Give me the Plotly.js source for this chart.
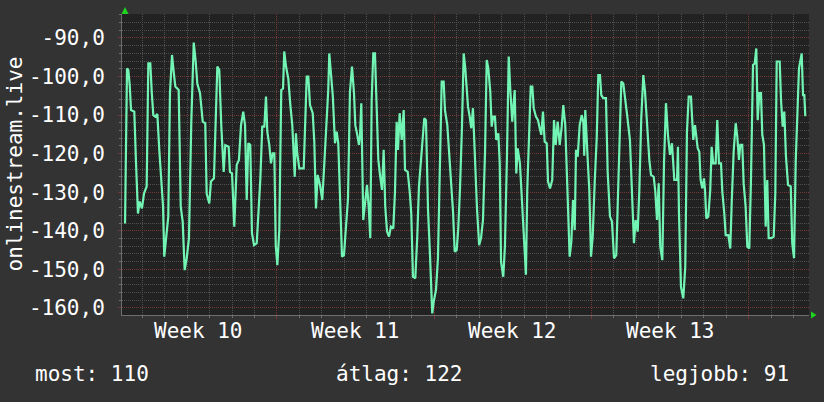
<!DOCTYPE html>
<html><head><meta charset="utf-8">
<script src="https://cdn.plot.ly/plotly-3.0.1.min.js"></script>
<style>html,body{margin:0;padding:0;background:#333333;} #chart{width:824px;height:402px;}</style>
</head><body><div id="chart"></div>
<script>
// time in hours since start of Week 10
const hours = [
5.7,6.4,7.8,9.2,10.7,12.1,15.6,17.4,19.5,21.4,
23.8,26.0,28.8,30.6,32.7,34.2,35.9,38.0,40.2,42.3,
44.4,46.3,47.6,49.5,51.9,53.7,55.9,57.3,59.4,63.0,
65.2,67.3,69.4,71.6,74.0,76.5,79.1,81.2,82.9,85.8,
88.7,91.4,92.9,95.7,97.5,100.7,102.6,104.3,106.4,108.5,
111.1,112.8,116.4,117.8,120.0,122.4,125.0,127.4,
129.6,132.0,133.9,135.7,137.4,139.5,141.3,143.5,146.4,148.1,
150.2,152.3,154.5,156.3,157.7,159.8,161.6,163.4,165.2,166.7,
168.4,170.5,172.6,174.5,175.8,177.7,180.1,182.3,184.4,187.0,
188.3,189.7,191.9,196.6,198.0,199.8,201.5,203.3,206.2,207.9,
209.7,211.5,214.0,216.4,218.6,221.1,222.8,223.9,225.7,227.6,
230.0,231.8,233.5,235.7,237.5,239.6,241.8,243.9,246.0,248.2,
250.3,251.7,253.8,255.6,256.7,258.1,260.2,262.1,264.2,266.0,
267.7,269.2,270.9,272.7,274.6,276.3,278.1,280.2,282.0,283.7,
285.6,287.7,289.8,292.3,294.1,295.9,297.3,299.1,301.3,303.4,
304.8,307.7,309.8,311.5,313.3,315.8,317.9,319.7,321.6,323.7,
325.4,327.2,329.4,331.5,332.9,333.9,335.4,337.9,340.0,342.2,
344.0,346.1,347.5,350.0,352.1,354.3,356.1,357.9,360.0,361.7,
363.5,365.7,367.5,369.2,
372.1,373.9,375.6,377.4,379.6,381.7,384.0,386.0,388.1,390.3,
392.1,393.8,395.9,397.4,399.1,400.9,402.3,404.5,406.0,407.4,
409.8,411.6,413.7,415.6,417.3,419.4,422.0,423.7,425.2,427.6,
429.8,431.9,434.0,435.4,437.3,439.1,440.8,442.3,444.7,446.9,
448.7,450.4,452.2,454.0,456.2,457.6,459.7,462.1,464.0,465.8,
467.9,470.1,472.2,473.9,476.0,477.9,479.7,480.7,482.5,484.3,
486.1,487.5,489.3,491.4,493.6,495.3,
496.3,497.4,500.0,501.7,503.5,505.3,507.5,509.6,511.3,513.1,
514.5,516.6,519.5,521.3,523.8,525.9,528.1,530.5,532.3,534.2,
535.9,538.0,540.1,542.3,545.1,547.0,549.4,551.2,553.4,555.1,
557.2,559.4,561.2,563.6,565.8,567.6,570.5,572.2,574.0,575.8,
577.5,579.7,581.5,583.6,585.7,587.9,590.0,592.5,595.4,596.4,
597.5,599.6,602.1,604.2,606.0,607.9,610.3,612.8,614.6,
617.5,619.2,620.6,622.4,624.2,625.3,626.7,628.8,630.9,632.4,
634.1,636.7,638.4,640.2,642.4,643.8,645.9,647.4,650.2,652.3,
653.8,655.9,658.1,659.8,661.6,663.0,665.1,666.6,668.7,670.5,
672.6,674.4,676.6,678.4,680.1,681.6,683.3,685.1,686.5,688.3,
690.1,691.8,693.3,696.1,698.7,700.4,701.9,705.1,706.5,708.3,
710.0,711.8,714.0,716.9,718.5,720.4,722.2,725.7,728.6,730.0,
731.4,732.4,733.5
];
const signal = [
-138.1,-119.0,-97.9,-98.3,-102.2,-108.7,-109.1,-122.1,-135.5,-132.4,
-134.2,-130.3,-128.5,-96.6,-96.6,-103.9,-110.0,-110.4,-109.7,-119.0,
-127.7,-133.7,-146.7,-142.4,-136.3,-104.3,-94.4,-97.9,-102.6,-103.5,
-133.7,-137.6,-150.2,-147.1,-141.9,-111.7,-91.2,-96.1,-101.8,-104.3,
-111.7,-112.1,-130.3,-132.9,-127.2,-126.4,-107.4,-97.4,-98.3,-112.6,
-124.7,-117.8,-118.2,-124.7,-125.1,-138.9,-122.9,-121.6,
-112.6,-109.1,-112.6,-132.0,-117.3,-117.7,-140.6,-143.7,-143.2,-136.3,
-126.8,-113.0,-113.0,-105.2,-114.3,-117.7,-122.5,-119.9,-119.9,-143.7,
-148.9,-139.8,-103.5,-103.1,-93.5,-97.4,-100.5,-107.4,-112.6,-126.0,
-114.7,-119.9,-123.8,-123.8,-112.1,-100.0,-100.0,-107.4,-109.5,-116.9,
-134.2,-125.5,-128.1,-132.0,-122.5,-112.6,-103.5,-94.0,-98.7,-104.8,
-117.3,-114.3,-117.3,-134.2,-146.7,-146.3,-138.9,-131.6,-103.9,-97.4,
-104.3,-112.6,-115.1,-117.7,-115.6,-106.9,-137.2,-132.0,-128.1,-133.7,
-141.9,-106.1,-94.0,-94.0,-106.1,-121.6,-125.5,-129.4,-119.0,-133.7,
-140.2,-141.5,-138.9,-139.4,-129.8,-111.7,-119.0,-109.5,-116.4,-108.7,
-124.2,-124.7,-129.8,-135.5,-151.9,-152.3,-141.5,-128.5,-122.5,-116.9,
-110.8,-111.3,-134.6,-146.3,-157.1,-161.4,-158.4,-155.3,-147.1,-120.8,
-101.3,-101.3,-108.7,-112.6,-119.9,-126.4,-135.0,-145.4,-145.0,-139.4,
-129.4,-112.6,-94.0,-97.9,
-107.8,-110.4,-113.4,-108.2,-122.1,-134.2,-143.7,-141.9,-137.2,-119.5,
-95.7,-97.9,-103.9,-113.0,-110.4,-110.4,-116.4,-114.7,-122.5,-148.0,
-151.9,-143.7,-120.8,-94.8,-103.5,-111.7,-103.5,-125.1,-118.6,-122.5,
-132.4,-141.5,-151.4,-129.4,-115.6,-102.6,-102.6,-108.2,-110.4,-111.3,
-113.4,-115.1,-109.1,-116.9,-117.3,-127.2,-129.0,-126.8,-111.3,-117.7,
-111.7,-117.7,-113.0,-107.4,-112.6,-126.0,-143.2,-146.7,-142.8,-132.0,
-139.8,-119.0,-120.8,-112.6,-110.0,-111.7,
-120.5,-108.7,-121.6,-129.4,-146.7,-141.5,-127.2,-116.0,-99.6,-99.6,
-104.8,-105.6,-105.6,-124.7,-136.3,-137.6,-147.1,-146.3,-131.1,-113.0,
-101.3,-101.8,-105.6,-110.4,-116.4,-129.8,-143.2,-137.2,-140.2,-129.8,
-110.8,-99.6,-103.9,-113.0,-121.6,-125.5,-126.0,-129.8,-137.2,-127.7,
-144.1,-147.6,-122.5,-106.9,-115.1,-120.3,-117.3,-126.8,-126.8,-118.2,
-135.5,-154.5,-157.5,-149.3,-114.3,-105.2,-105.2,-116.4,-112.6,
-118.6,-119.5,-126.8,-129.0,-126.4,-129.4,-136.8,-136.3,-129.4,-118.2,
-122.5,-122.5,-111.3,-122.5,-122.5,-129.8,-135.5,-141.1,-141.1,-144.6,
-132.9,-119.5,-112.1,-115.6,-121.6,-117.7,-117.7,-127.7,-133.7,-144.1,
-144.6,-126.8,-97.0,-96.6,-92.7,-111.3,-104.3,-104.3,-115.1,-117.7,
-138.9,-126.8,-141.9,-141.9,-141.5,-130.3,-96.1,-96.1,-106.1,-113.0,
-109.1,-120.8,-128.1,-128.5,-143.2,-147.1,-122.1,-97.9,-94.0,-104.8,
-104.8,-110.0,-110.0
];
const yTickValues = [-160,-150,-140,-130,-120,-110,-100,-90];
const yTickLabels = ['-160,0','-150,0','-140,0','-130,0','-120,0','-110,0','-100,0','-90,0'];
const weekBoundaries = [0,168,336,504,672];
const weekLabels = ['Week 10','Week 11','Week 12','Week 13'];
const statNames = ['most','átlag','legjobb'];
const statValues = [110,122,91];
const seriesName = 'onlinestream.live';

if (hours.length !== signal.length) throw new Error('length mismatch ' + hours.length + ' vs ' + signal.length);

const FONT = 'DejaVu Sans Mono';
const FS = 21;
const RED = '#743636';
const GRAY = '#505050';

const W = 824, H = 402;
const M = {l:122, r:15, t:14, b:87};
const pw = W - M.l - M.r, ph = H - M.t - M.b;
const px2paper = x => (x - M.l) / pw;
const py2paper = y => (H - M.b - y) / ph;

const annotations = [];
weekLabels.forEach((t,i) => {
  annotations.push({xref:'x', yref:'paper', x:(weekBoundaries[i]+weekBoundaries[i+1])/2, y:py2paper(331),
    text:t, showarrow:false, xanchor:'center', yanchor:'middle', font:{family:FONT,size:FS,color:'#ffffff'}});
});
annotations.push({xref:'paper', yref:'paper', x:px2paper(33), y:py2paper(374), xanchor:'left', yanchor:'middle',
  text:statNames[0]+': '+statValues[0], showarrow:false, font:{family:FONT,size:FS,color:'#ffffff'}});
annotations.push({xref:'paper', yref:'paper', x:px2paper(334), y:py2paper(374), xanchor:'left', yanchor:'middle',
  text:statNames[1]+': '+statValues[1], showarrow:false, font:{family:FONT,size:FS,color:'#ffffff'}});
annotations.push({xref:'paper', yref:'paper', x:px2paper(791), y:py2paper(374), xanchor:'right', yanchor:'middle',
  text:statNames[2]+': '+statValues[2], showarrow:false, font:{family:FONT,size:FS,color:'#ffffff'}});
annotations.push({xref:'paper', yref:'paper', x:px2paper(14), y:0.5, xanchor:'center', yanchor:'middle', textangle:-90,
  text:seriesName, showarrow:false, font:{family:FONT,size:FS,color:'#ffffff'}});

const shapes = [
  {type:'path', xref:'paper', yref:'paper', xsizemode:'pixel', ysizemode:'pixel', xanchor:0, yanchor:1,
   path:'M -0.5,0 L 6.5,0 L 3,7 Z', fillcolor:'#1fd41f', line:{width:0}},
  {type:'path', xref:'paper', yref:'paper', xsizemode:'pixel', ysizemode:'pixel', xanchor:1, yanchor:0,
   path:'M 2,3.5 L 2,-3.5 L 7.5,0 Z', fillcolor:'#1fd41f', line:{width:0}}
];

const trace = {x:hours, y:signal, type:'scatter', mode:'lines', line:{color:'#72f5b4', width:2.2}, hoverinfo:'skip'};

const layout = {
  width:W, height:H, margin:M, paper_bgcolor:'#333333', plot_bgcolor:'#222222', showlegend:false,
  xaxis:{range:[2.46,736.4], tickmode:'array', tickvals:weekBoundaries, showticklabels:false,
    ticks:'outside', ticklen:3, tickcolor:RED, showgrid:true, gridcolor:RED, griddash:'1px,1px', gridwidth:1,
    zeroline:false, showline:true, linecolor:'#6e6e6e', linewidth:1,
    minor:{tickmode:'linear', dtick:24, tick0:0, showgrid:true, gridcolor:GRAY, griddash:'1px,1px', ticks:'outside', ticklen:2, tickcolor:'#6e6e6e'},
    fixedrange:true},
  yaxis:{range:[-161.82,-83.78], tickmode:'array', tickvals:yTickValues, ticktext:yTickLabels,
    ticks:'outside', ticklen:3, tickcolor:RED, showgrid:true, gridcolor:RED, griddash:'1px,1px', gridwidth:1,
    zeroline:false, showline:true, linecolor:'#6e6e6e', linewidth:1, ticklabelstandoff:9,
    tickfont:{family:FONT, size:FS, color:'#ffffff'},
    minor:{tickmode:'linear', dtick:2, tick0:-160, showgrid:true, gridcolor:GRAY, griddash:'1px,1px', ticks:'outside', ticklen:2, tickcolor:'#6e6e6e'},
    fixedrange:true},
  annotations:annotations, shapes:shapes
};

Plotly.newPlot('chart', [trace], layout, {displayModeBar:false, staticPlot:true});
</script>
</body></html>
